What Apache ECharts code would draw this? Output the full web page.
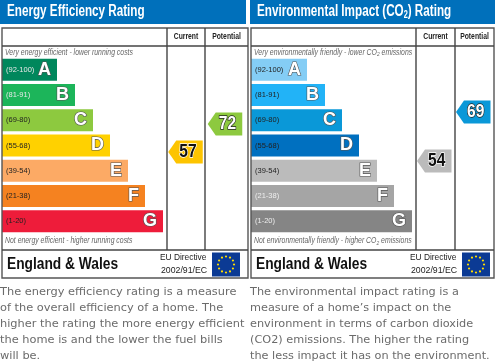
<!DOCTYPE html>
<html><head><meta charset="utf-8">
<style>html,body{margin:0;padding:0;background:#fff}#c{width:495px;height:362px}</style>
<script src="https://cdn.jsdelivr.net/npm/echarts@6/dist/echarts.min.js"></script>
</head><body><div id="c"></div>
<script>
const bands = ['(92-100)','(81-91)','(69-80)','(55-68)','(39-54)','(21-38)','(1-20)'];
const letters = ['A','B','C','D','E','F','G'];
const columns = ['Current','Potential'];
const energyLengths = [55,73,91,108,126,143,161];
const envLengths = [56,74,91,108,126,143,161];
const energyColors = ['#00875c','#1cb55a','#8dc93f','#ffd100','#fcaa65','#f58220','#ee1c3a'];
const envColors = ['#84cdf5','#22b3f7','#0a98d8','#0070c0','#bbbbbb','#a5a5a5','#858585'];
const energyRangeColors = ['#e8e8e8','#e8e8e8','#222','#222','#222','#222','#222'];
const envRangeColors = ['#222','#222','#222','#222','#222','#eee','#eee'];
const energyCurrent = 57, energyPotential = 72;
const envCurrent = 54, envPotential = 69;
const energyArrowColors = ['#fdc400','#8dc93f'];
const envArrowColors = ['#bbbbbb','#0a98d8'];

const G = [
 {left:2,width:165,cols:{left:167,width:79},rating:[13.1,107.9]},
 {left:251,width:165,cols:{left:416,width:78},rating:[31.7,85.8]}
];
const gridTop=57,gridH=177;
const grids=[],xA=[],yA=[],series=[];
function addChart(i,lengths,colors,rangeColors,ratings,arrowColors){
  const g=G[i], gi=grids.length;
  grids.push({left:g.left,width:g.width,top:gridTop,height:gridH,containLabel:false});
  grids.push({left:g.cols.left,width:g.cols.width,top:gridTop,height:gridH,containLabel:false});
  xA.push({gridIndex:gi,type:'value',min:0,max:165,show:false});
  yA.push({gridIndex:gi,type:'category',inverse:true,data:bands,show:false});
  xA.push({gridIndex:gi+1,type:'category',data:columns,show:false});
  yA.push({gridIndex:gi+1,type:'value',min:g.rating[0],max:g.rating[1],show:false});
  const xi=xA.length-2;
  series.push({type:'bar',xAxisIndex:xi,yAxisIndex:xi,barWidth:22,silent:true,animation:false,
    data:lengths.map((v,k)=>({value:v,itemStyle:{color:colors[k]},
      label:{show:true,position:'insideLeft',distance:4,formatter:bands[k],fontFamily:'Liberation Sans',fontSize:7.5,color:rangeColors[k]}}))});
  series.push({type:'bar',xAxisIndex:xi,yAxisIndex:xi,barWidth:22,barGap:'-100%',silent:true,animation:false,
    data:lengths.map((v,k)=>({value:v,itemStyle:{color:'transparent'},
      label:{show:true,position:'insideRight',distance:6,formatter:letters[k],fontFamily:'Liberation Sans',fontWeight:'bold',fontSize:18,color:'#fff',textBorderColor:'#555',textBorderWidth:1.2}}))});
  series.push({type:'custom',xAxisIndex:xi+1,yAxisIndex:xi+1,silent:true,animation:false,
    data:ratings.map((r,k)=>[k,r]),
    renderItem:function(p,api){
      const c=api.coord([api.value(0),api.value(1)]),k=api.value(0),hw=17.25,hh=11.5,tip=8;
      const l=c[0]-hw-1.25,r=c[0]+hw-1.25;
      return {type:'group',children:[
       {type:'polygon',shape:{points:[[l,c[1]],[l+tip,c[1]-hh],[r,c[1]-hh],[r,c[1]+hh],[l+tip,c[1]+hh]]},style:{fill:arrowColors[k]}},
       {type:'text',x:(l+tip+r)/2-1.5,y:c[1],scaleX:0.82,style:{x:0,y:0,text:String(api.value(1)),align:'center',verticalAlign:'middle',
         font:'bold 19px "Liberation Sans"',fill:k==0?'#111':'#fff',stroke:k==0?'#fff':'#222',lineWidth:1.4}}
      ]};
    }});
}
addChart(0,energyLengths,energyColors,energyRangeColors,[energyCurrent,energyPotential],energyArrowColors);
addChart(1,envLengths,envColors,envRangeColors,[envCurrent,envPotential],envArrowColors);

const gfx=[];
const line=(x1,y1,x2,y2,c,w)=>gfx.push({type:'line',silent:true,z:5,shape:{x1,y1,x2,y2},style:{stroke:c||'#444',lineWidth:w||1.4}});
const txt=(x,y,t,font,fill,scale,extra)=>gfx.push({type:'text',silent:true,z:6,x,y,scaleX:scale||1,style:Object.assign({text:t,font,fill,verticalAlign:'middle'},extra||{})});
function panel(x0,x1,c1,c2,hx0,hx1,title,rich,topT,botT,bodyLines,bodyScale){
  gfx.push({type:'rect',silent:true,z:0,shape:{x:hx0,y:0,width:hx1-hx0,height:24},style:{fill:'#0070bb'}});
  txt(hx0+7,12,title,'bold 16px "Liberation Sans"','#fff',0.73,rich?{rich}:{});
  gfx.push({type:'rect',silent:true,z:5,shape:{x:x0,y:28,width:x1-x0,height:250},style:{fill:'none',stroke:'#555',lineWidth:1.4}});
  line(x0,46,x1,46); line(x0,250,x1,250); line(c1,28,c1,250); line(c2,28,c2,250);
  txt(c1+(c2-c1)/2,36.5,'Current','bold 8.5px "Liberation Sans"','#222',0.8,{align:'center'});
  txt(c2+(x1-c2)/2,36.5,'Potential','bold 8.5px "Liberation Sans"','#222',0.8,{align:'center'});
  const smallRich={r:{font:'italic 8.5px "Liberation Sans"',fill:'#666'},s:{font:'italic 6px "Liberation Sans"',fill:'#666',verticalAlign:'bottom',padding:[4,0,0,0]}};
  txt(x0+3,52.5,topT,'italic 8.5px "Liberation Sans"','#666',0.81,{rich:smallRich});
  txt(x0+3,241,botT,'italic 8.5px "Liberation Sans"','#666',0.81,{rich:smallRich});
  txt(x0+5,264.5,'England & Wales','bold 16px "Liberation Sans"','#111',0.86);
  const fx=c2+7;
  txt(c2-45,257.5,'EU Directive','9.5px "Liberation Sans"','#222',0.88);
  txt(c2-44,270,'2002/91/EC','9.5px "Liberation Sans"','#222',0.92);
  gfx.push({type:'rect',silent:true,z:5,shape:{x:fx,y:252.5,width:28,height:24},style:{fill:'#0b3a94'}});
  for(let a=0;a<12;a++){const t=a*Math.PI/6;
    gfx.push({type:'circle',silent:true,z:6,shape:{cx:fx+14+8*Math.cos(t),cy:264.5+8*Math.sin(t),r:1.1},style:{fill:'#ffdd00'}});}
  bodyLines.forEach((l,k)=>txt(hx0,292+k*16,l,'11px "DejaVu Sans"','#6b6b6b',bodyScale));
}
panel(2,248,167,205,0,246,'Energy Efficiency Rating',null,
 'Very energy efficient - lower running costs','Not energy efficient - higher running costs',
 ['The energy efficiency rating is a measure','of the overall efficiency of a home. The','higher the rating the more energy efficient','the home is and the lower the fuel bills','will be.'],1.034);
panel(251,494,416,455,250,495,'Environmental Impact (CO{s|2}) Rating',{s:{font:'bold 10px "Liberation Sans"',fill:'#fff',verticalAlign:'bottom',padding:[6,0,0,0]}},
 '{r|Very environmentally friendly - lower CO}{s|2}{r| emissions}','{r|Not environmentally friendly - higher CO}{s|2}{r| emissions}',
 ['The environmental impact rating is a','measure of a home\u2019s impact on the','environment in terms of carbon dioxide','(CO2) emissions. The higher the rating','the less impact it has on the environment.'],1.025);

const chart=echarts.init(document.getElementById('c'),null,{renderer:'canvas'});
chart.setOption({animation:false,backgroundColor:'#fff',grid:grids,xAxis:xA,yAxis:yA,series,graphic:{elements:gfx}});
</script></body></html>
